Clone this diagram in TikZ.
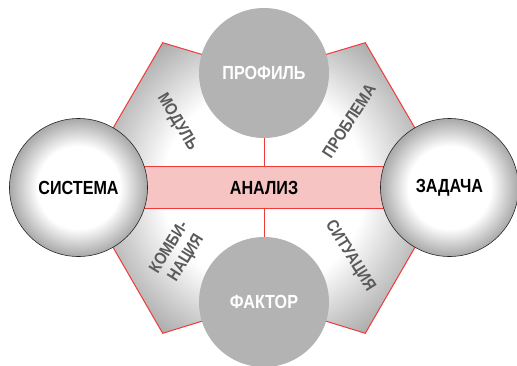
\documentclass[tikz,border=0pt]{standalone}
\usepackage{fontspec}
\setmainfont{Liberation Sans}
\newfontfamily\condfont[FakeStretch=0.85]{Liberation Sans}
\usetikzlibrary{positioning}
\definecolor{hexred}{HTML}{F03A3A}
\definecolor{barpink}{HTML}{F7C4C4}
\definecolor{discgray}{HTML}{B3B3B3}
\definecolor{labelgray}{HTML}{5A5A5A}
\pgfdeclareradialshading{ballshade}{\pgfpointorigin}{color(0bp)=(white); color(15bp)=(white); color(25bp)=(black!34); color(50bp)=(black!34)}
\pgfdeclareradialshading{hexshade}{\pgfpointorigin}{color(0bp)=(white); color(14bp)=(white); color(25bp)=(black!34); color(50bp)=(black!34)}

\begin{document}
\begin{tikzpicture}[x=1pt,y=-1pt]
\tikzset{sidedisc/.style = {shape=circle,draw=black!85,line width=0.6pt,shading=ballshade,minimum size=138pt,inner sep=0pt,font=\condfont\fontsize{19}{21}\selectfont\bfseries}}
\tikzset{middisc/.style = {shape=circle,fill=discgray,minimum size=130pt,inner sep=0pt,text=white,font=\condfont\fontsize{19}{21}\selectfont\bfseries}}
\tikzset{bar/.style = {draw=hexred,line width=1pt,fill=barpink,minimum width=371pt,minimum height=41.6pt,inner sep=0pt,font=\condfont\fontsize{19}{21}\selectfont\bfseries}}
\tikzset{sidelabel/.style = {text=labelgray,align=center,inner sep=0pt,font=\condfont\fontsize{17}{20}\selectfont\bfseries}}
\tikzset{edge/.style = {draw=hexred,line width=1pt}}
\useasboundingbox (0,0) rectangle (517,365);
% corners
\coordinate (hl) at (78.5,187.5);
\coordinate (hr) at (449.5,187.5);
\coordinate (pc) at (264,73);
\coordinate (fc) at (264,302);
\coordinate (tl) at (162.7,42.7);
\coordinate (tr) at (365.3,42.7);
\coordinate (bl) at (162.7,333.3);
\coordinate (br) at (365.3,333.3);
% frame
\begin{scope}
\clip (hl) -- (tl) -- (pc) -- (tr) -- (hr) -- (br) -- (fc) -- (bl) -- cycle;
\shade[shading=hexshade] (264,187.5) circle (180);
\end{scope}
\draw[edge] (hl) -- (tl) -- (pc) -- (tr) -- (hr) -- (br) -- (fc) -- (bl) -- cycle;
% nodes
\node[bar] (ana) at (264,187.5) {АНАЛИЗ};
\node[sidedisc] (sys) at (hl) {СИСТЕМА};
\node[sidedisc] (task) at (hr) {ЗАДАЧА};
\node[middisc] (prof) at (pc) {ПРОФИЛЬ};
\node[middisc] (fact) at (fc) {ФАКТОР};
\node[sidelabel,rotate=-59] (mod) at (177,122) {МОДУЛЬ};
\node[sidelabel,rotate=57] (prob) at (349,121) {ПРОБЛЕМА};
\node[sidelabel,rotate=58] (comb) at (178,253) {КОМБИ-\\НАЦИЯ};
\node[sidelabel,rotate=-58] (sit) at (350,256) {СИТУАЦИЯ};
% lines
\draw[edge] (prof) -- (ana);
\draw[edge] (ana) -- (fact);
\end{tikzpicture}
\end{document}
